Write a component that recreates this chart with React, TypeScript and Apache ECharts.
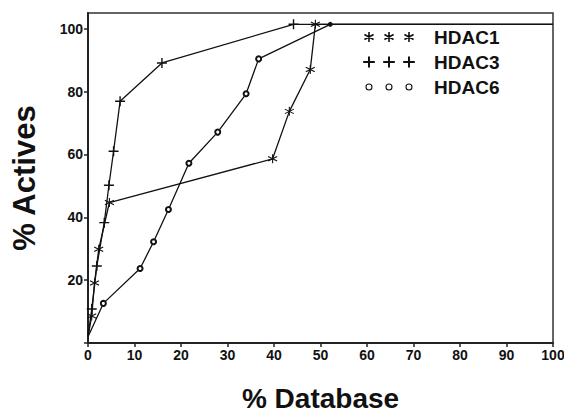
import React, { useEffect, useRef } from "react";
import * as echarts from "echarts";

const seriesNames = ["HDAC1", "HDAC3", "HDAC6"];
const hdac1: [number, number][] = [
  [0, 2], [0.8, 8.6], [1.4, 19.1], [2.3, 29.8], [4.6, 44.7], [39.7, 58.6],
  [43.3, 73.7], [47.8, 87], [48.9, 101.4], [100, 101.4],
];
const hdac3: [number, number][] = [
  [0, 2], [0.8, 10.8], [1.9, 24.5], [3.5, 38.3], [4.5, 50.2], [5.5, 61],
  [6.9, 76.9], [15.9, 89.1], [44.2, 101.4], [100, 101.4],
];
const hdac6: [number, number][] = [
  [0, 2], [3.3, 12.6], [11.2, 23.7], [14.1, 32.2], [17.3, 42.5], [21.7, 57.2],
  [27.9, 67.1], [34, 79.3], [36.7, 90.4], [52.1, 101.4], [100, 101.4],
];
const yTickValues = [20, 40, 60, 80, 100];
const yTickMarks = [0, 20, 40, 60, 80, 100];

const FONT = "'Liberation Sans', Arial, Helvetica, sans-serif";
const INK = "#111";

const starSym = "path://M5,0 L5,10 M0.7,2.5 L9.3,7.5 M0.7,7.5 L9.3,2.5";
const plusSym = "path://M5,0 L5,10 M0,5 L10,5";

const frame = "M0,0 M52,12 ";
const legStar = "path://" + frame + [6, 26, 46]
  .map((c) => `M${c},1 L${c},11 M${c - 4.6},3.5 L${c + 4.6},8.5 M${c - 4.6},8.5 L${c + 4.6},3.5`)
  .join(" ");
const legPlus = "path://" + frame + [6, 26, 46]
  .map((c) => `M${c},0.5 L${c},11.5 M${c - 5.8},6 L${c + 5.8},6`)
  .join(" ");
const legCirc = "path://" + frame + [6, 26, 46]
  .map((c) => `M${c - 3},6 A3,3 0 1,0 ${c + 3},6 A3,3 0 1,0 ${c - 3},6 Z`)
  .join(" ");

function withEnds(data: [number, number][]) {
  return data.map((d, i) =>
    i === 0 || i === data.length - 1 ? { value: d, symbol: "none" } : { value: d }
  );
}

export default function App() {
  const ref = useRef<HTMLDivElement>(null);
  useEffect(() => {
    if (!ref.current) return;
    const chart = echarts.init(ref.current, undefined, { renderer: "svg" });
    const lineStyle = { color: INK, width: 1.3 };
    const hdac6Data = hdac6.map((d, i) => {
      if (i === 0 || i === hdac6.length - 1) return { value: d, symbol: "none" };
      if (i === hdac6.length - 2)
        return { value: d, symbol: "circle", itemStyle: { color: INK } };
      return { value: d };
    });
    chart.setOption({
      animation: false,
      backgroundColor: "#fff",
      grid: {
        left: 88,
        right: 11,
        top: 13,
        bottom: 70,
        show: true,
        borderColor: "#333",
        borderWidth: 1.5,
        containLabel: false,
        outerBoundsMode: "none",
      },
      legend: {
        orient: "vertical",
        left: 357,
        top: 22,
        itemWidth: 52,
        itemHeight: 12,
        itemGap: 5,
        selectedMode: false,
        textStyle: {
          fontFamily: FONT,
          fontWeight: "bold",
          fontSize: 19,
          color: INK,
          lineHeight: 20,
          padding: [0, 0, 0, 14],
        },
        data: [
          { name: "HDAC1", icon: legStar, itemStyle: { color: "transparent", borderColor: INK, borderWidth: 1.6 } },
          { name: "HDAC3", icon: legPlus, itemStyle: { color: "transparent", borderColor: INK, borderWidth: 2 } },
          { name: "HDAC6", icon: legCirc, itemStyle: { color: "transparent", borderColor: INK, borderWidth: 1.1 } },
        ],
      },
      xAxis: {
        type: "value",
        min: 0,
        max: 100,
        interval: 10,
        name: "% Database",
        nameLocation: "middle",
        nameGap: 41,
        nameTextStyle: { fontFamily: FONT, fontWeight: "bold", fontSize: 28, color: INK },
        splitLine: { show: false },
        axisLine: { show: true, lineStyle: { color: "#222", width: 2 } },
        axisTick: { show: true, length: 4, lineStyle: { color: "#222", width: 1.5 } },
        axisLabel: {
          fontFamily: FONT,
          fontWeight: "bold",
          fontSize: 14,
          color: INK,
          margin: 5,
        },
      },
      yAxis: {
        type: "value",
        min: 0,
        max: 105,
        interval: 20,
        name: "% Actives",
        nameLocation: "middle",
        nameGap: 48,
        nameTextStyle: { fontFamily: FONT, fontWeight: "bold", fontSize: 31, color: INK },
        splitLine: { show: false },
        axisLine: { show: true, lineStyle: { color: "#222", width: 2 } },
        axisTick: {
          show: true,
          length: 4,
          customValues: yTickMarks,
          lineStyle: { color: "#222", width: 1.5 },
        },
        axisLabel: {
          fontFamily: FONT,
          fontWeight: "bold",
          fontSize: 14,
          color: INK,
          margin: 5,
          customValues: yTickValues,
        },
      },
      series: [
        {
          name: seriesNames[0],
          type: "line",
          data: withEnds(hdac1),
          symbol: starSym,
          symbolSize: 9,
          lineStyle,
          itemStyle: { color: "transparent", borderColor: INK, borderWidth: 1.1 },
          z: 3,
        },
        {
          name: seriesNames[1],
          type: "line",
          data: withEnds(hdac3),
          symbol: plusSym,
          symbolSize: 10,
          lineStyle,
          itemStyle: { color: "transparent", borderColor: INK, borderWidth: 1.4 },
          z: 3,
        },
        {
          name: seriesNames[2],
          type: "line",
          data: hdac6Data,
          symbol: "emptyCircle",
          symbolSize: 5,
          lineStyle,
          itemStyle: { color: INK, borderWidth: 1 },
          z: 3,
        },
      ],
    });
    return () => chart.dispose();
  }, []);
  return (
    <div
      ref={ref}
      style={{ position: "fixed", left: 0, top: 0, width: 564, height: 413 }}
    />
  );
}
